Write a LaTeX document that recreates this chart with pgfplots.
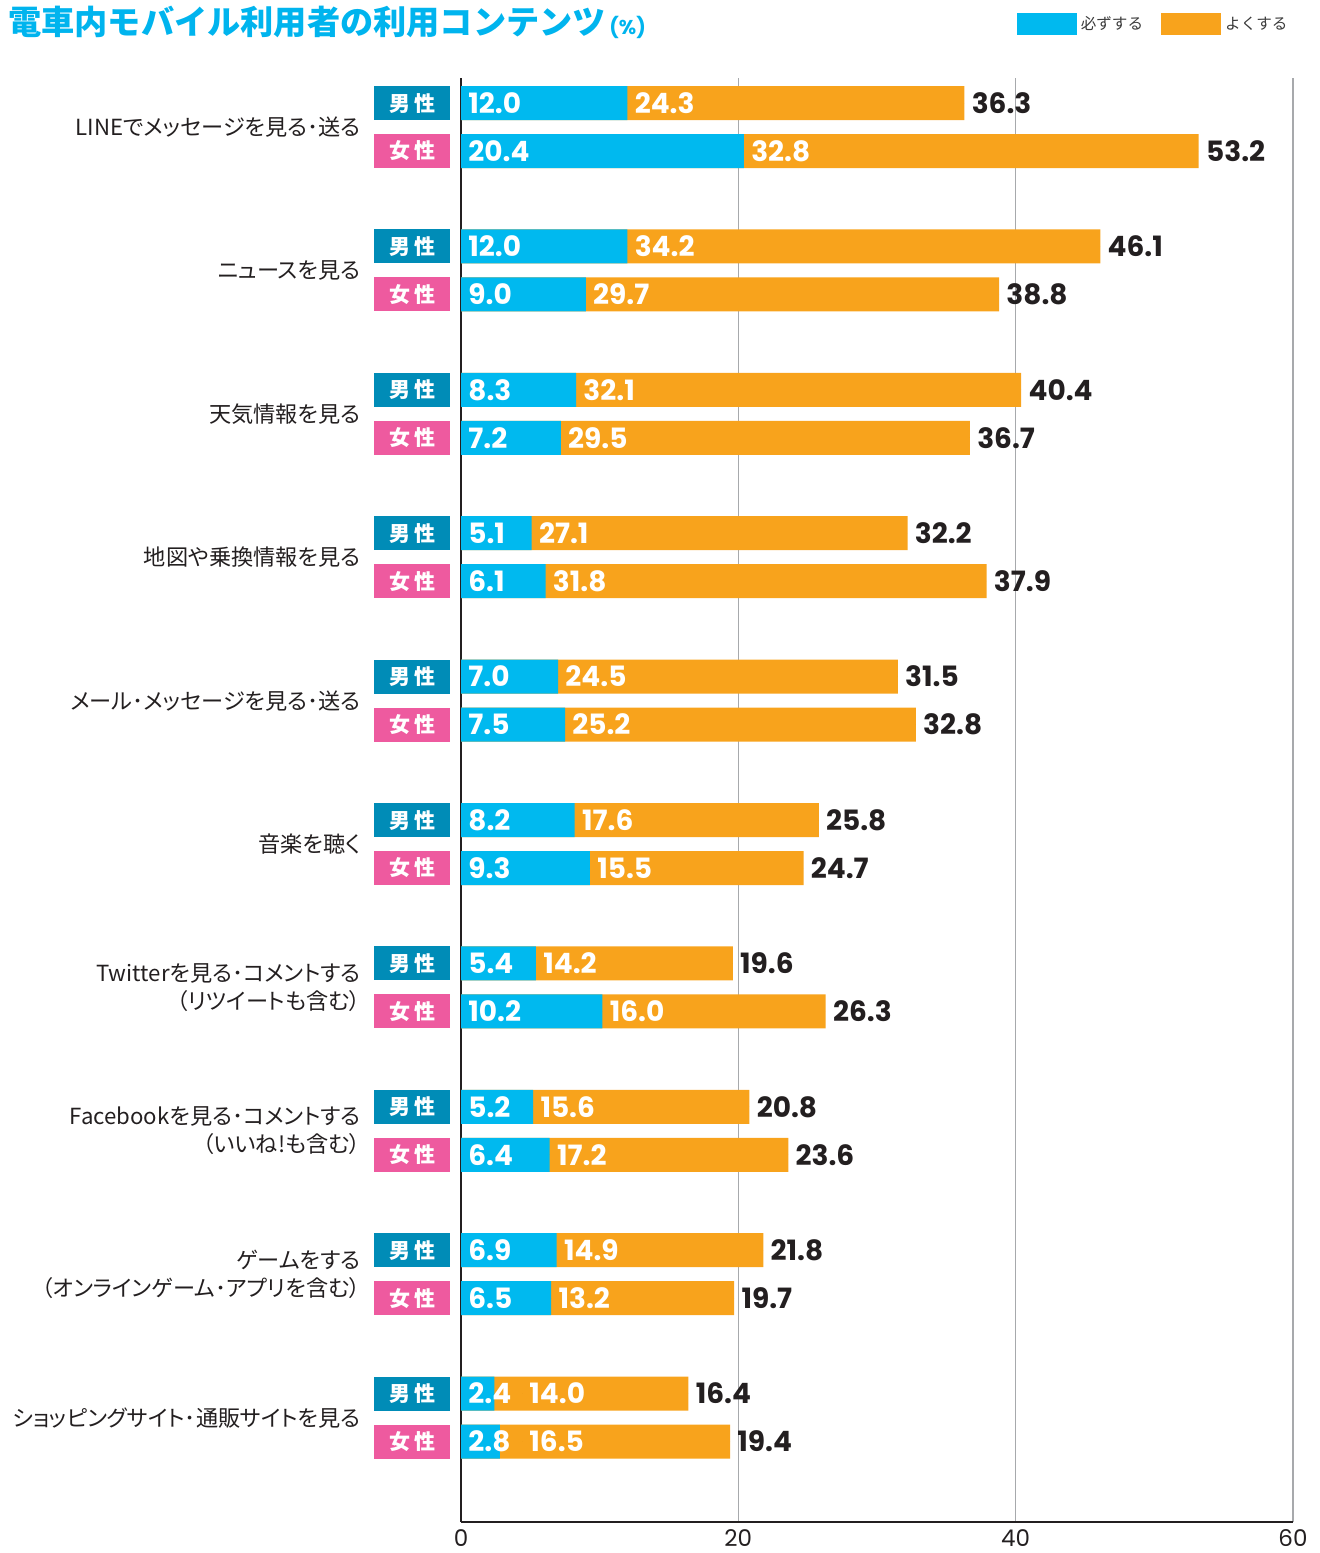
\documentclass[border=0pt]{standalone}
\usepackage{fontspec}
\usepackage{pgfplots}
\usepackage{pgfplotstable}
\pgfplotsset{compat=1.18}
\setmainfont{Noto Sans CJK JP}
\newfontfamily\jpp{Noto Sans CJK JP}[RawFeature=+palt]
\newfontfamily\pop{Poppins}
\definecolor{bluec}{HTML}{00B9EF}
\definecolor{orangec}{HTML}{F8A31C}
\definecolor{malec}{HTML}{008CB7}
\definecolor{femalec}{HTML}{EE5A9F}
\definecolor{titlec}{HTML}{00B4EE}
\definecolor{gridc}{HTML}{A7A9AC}
\definecolor{axisc}{HTML}{231F20}
\definecolor{legc}{HTML}{3A3A3A}

\pgfplotstableread{
y blue orange total lx
103 12.0 24.3 36.3 12.0
151 20.4 32.8 53.2 20.4
246.4 12.0 34.2 46.1 12.0
294.4 9.0 29.7 38.8 9.0
389.8 8.3 32.1 40.4 8.3
437.8 7.2 29.5 36.7 7.2
533.2 5.1 27.1 32.2 5.1
581.2 6.1 31.8 37.9 6.1
676.6 7.0 24.5 31.5 7.0
724.6 7.5 25.2 32.8 7.5
820 8.2 17.6 25.8 8.2
868 9.3 15.5 24.7 9.3
963.4 5.4 14.2 19.6 5.4
1011.4 10.2 16.0 26.3 10.2
1106.8 5.2 15.6 20.8 5.2
1154.8 6.4 17.2 23.6 6.4
1250.2 6.9 14.9 21.8 6.9
1298.2 6.5 13.2 19.7 6.5
1393.6 2.4 14.0 16.4 4.4
1441.6 2.8 16.5 19.4 4.4
}\data

\begin{document}
\begin{tikzpicture}
\path[use as bounding box] (0,0) rectangle (660pt,-776.5pt);
\begin{axis}[
  at={(230.5pt,-761pt)}, anchor=south west,
  scale only axis, width=416pt, height=722pt,
  xmin=0, xmax=60, ymin=78, ymax=1522, y dir=reverse,
  clip=false,
  axis x line*=bottom, axis y line*=left,
  axis line style={-, line width=1pt, draw=axisc},
  xtick={0,20,40,60}, major tick length=0pt,
  xmajorgrids, grid style={draw=gridc, line width=0.6pt},
  ytick={127,270.4,413.8,557.2,700.6,844,987.4,1130.8,1274.2,1417.6},
  yticklabels={LINEでメッセージを見る･送る, ニュースを見る, 天気情報を見る, 地図や乗換情報を見る, メール･メッセージを見る･送る, 音楽を聴く, {Twitterを見る･コメントする\\（リツイートも含む）}, {Facebookを見る･コメントする\\（いいね!も含む）}, {ゲームをする\\（オンラインゲーム･アプリを含む）}, ショッピングサイト･通販サイトを見る},
  yticklabel style={align=right, anchor=east, inner sep=0pt, xshift=-50pt, font=\jpp\fontsize{11.1}{14}\selectfont, text=axisc},
  xticklabel style={font=\pop\fontsize{11.5}{13}\selectfont, text=axisc, inner sep=0pt, yshift=-3.5pt},
  /pgf/number format/assume math mode=true,
  legend style={at={(0.9988,1.0457)}, anchor=north east, draw=none, fill=none, legend columns=2, font=\fontsize{7.8}{9}\selectfont, text=legc, /tikz/every even column/.append style={column sep=7pt}, inner sep=0pt},
  legend image code/.code={\fill[#1, draw=none] (0pt,-5.5pt) rectangle (30pt,5.5pt);},
]
\addplot[forget plot, xbar, bar width=34, bar shift=0pt, fill=orangec, draw=none] table[x=total, y=y] {\data};
\addplot[forget plot, xbar, bar width=34, bar shift=0pt, fill=bluec, draw=none] table[x=blue, y=y] {\data};

% blue segment labels
\addplot[forget plot, only marks, mark=*, mark size=0pt, draw=none, point meta=\thisrow{blue},
  nodes near coords={\pgfmathprintnumber[fixed,fixed zerofill,precision=1]{\pgfplotspointmeta}},
  nodes near coords style={anchor=west, inner sep=0pt, xshift=3.5pt, text=white, font=\pop\bfseries\fontsize{14}{14}\selectfont}]
  table[x expr=0, y=y] {\data};
% orange segment labels
\addplot[forget plot, only marks, mark=*, mark size=0pt, draw=none, point meta=\thisrow{orange},
  nodes near coords={\pgfmathprintnumber[fixed,fixed zerofill,precision=1]{\pgfplotspointmeta}},
  nodes near coords style={anchor=west, inner sep=0pt, xshift=3.5pt, text=white, font=\pop\bfseries\fontsize{14}{14}\selectfont}]
  table[x=lx, y=y] {\data};
% totals
\addplot[forget plot, only marks, mark=*, mark size=0pt, draw=none, point meta=\thisrow{total},
  nodes near coords={\pgfmathprintnumber[fixed,fixed zerofill,precision=1]{\pgfplotspointmeta}},
  nodes near coords style={anchor=west, inner sep=0pt, xshift=3.5pt, text=axisc, font=\pop\bfseries\fontsize{14}{14}\selectfont}]
  table[x=total, y=y] {\data};

% gender tags
\addplot[forget plot, only marks, mark=*, mark size=0pt, draw=none,
  nodes near coords={\bfseries 男\kern2pt 性},
  nodes near coords style={fill=malec, text=white, minimum width=38pt, minimum height=17pt, inner sep=0pt, anchor=center, font=\fontsize{10.5}{12}\selectfont}]
  coordinates {(-3.53,103) (-3.53,246.4) (-3.53,389.8) (-3.53,533.2) (-3.53,676.6) (-3.53,820) (-3.53,963.4) (-3.53,1106.8) (-3.53,1250.2) (-3.53,1393.6)};
\addplot[forget plot, only marks, mark=*, mark size=0pt, draw=none,
  nodes near coords={\bfseries 女\kern2pt 性},
  nodes near coords style={fill=femalec, text=white, minimum width=38pt, minimum height=17pt, inner sep=0pt, anchor=center, font=\fontsize{10.5}{12}\selectfont}]
  coordinates {(-3.53,151) (-3.53,294.4) (-3.53,437.8) (-3.53,581.2) (-3.53,724.6) (-3.53,868) (-3.53,1011.4) (-3.53,1154.8) (-3.53,1298.2) (-3.53,1441.6)};

\addlegendimage{fill=bluec, draw=none}
\addlegendentry{必ずする}
\addlegendimage{fill=orangec, draw=none}
\addlegendentry{よくする}
\end{axis}
\node[anchor=west, inner sep=0pt, text=titlec, font=\bfseries\fontsize{16.6}{17}\selectfont] at (4pt,-11pt) {電車内モバイル利用者の利用コンテンツ{\fontsize{10}{10}\selectfont\pop\bfseries\,(\%)}};
\end{tikzpicture}
\end{document}
